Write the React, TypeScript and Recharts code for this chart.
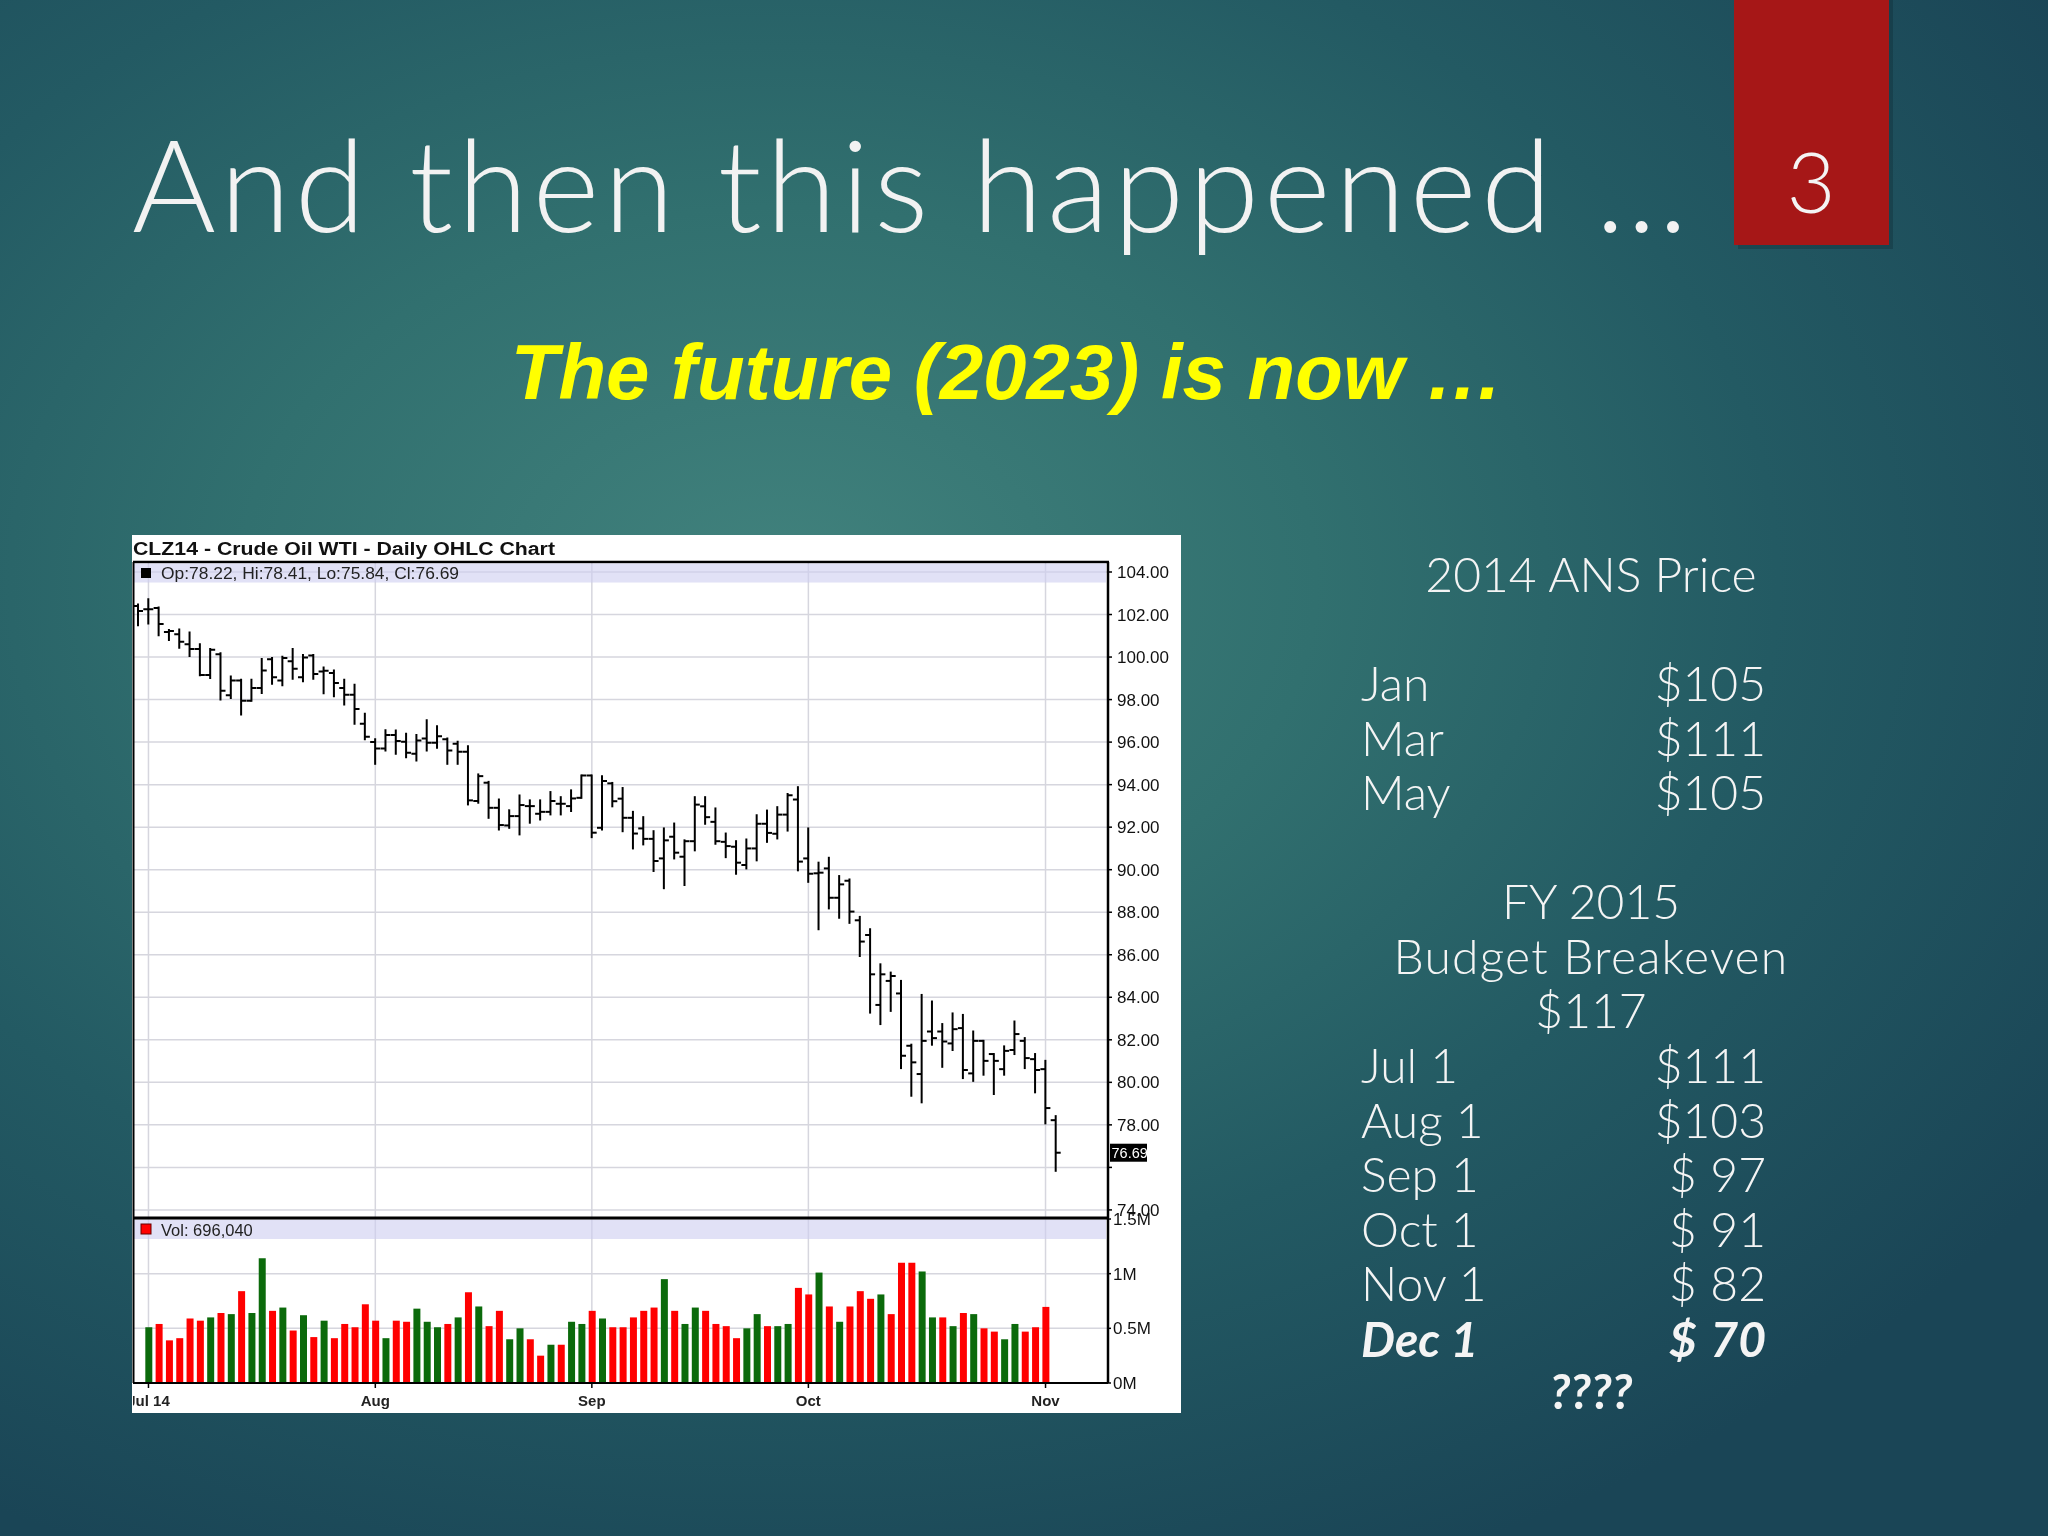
import React from 'react';
import { ComposedChart, Bar, XAxis, YAxis, CartesianGrid, Cell, ReferenceLine } from 'recharts';

// trading sessions Jun 30 – Nov 4, 2014
const sessionMonths: [number, number[]][] = [
  [6, [30]],
  [7, [1, 2, 3, 7, 8, 9, 10, 11, 14, 15, 16, 17, 18, 21, 22, 23, 24, 25, 28, 29, 30, 31]],
  [8, [1, 4, 5, 6, 7, 8, 11, 12, 13, 14, 15, 18, 19, 20, 21, 22, 25, 26, 27, 28, 29]],
  [9, [2, 3, 4, 5, 8, 9, 10, 11, 12, 15, 16, 17, 18, 19, 22, 23, 24, 25, 26, 29, 30]],
  [10, [1, 2, 3, 6, 7, 8, 9, 10, 13, 14, 15, 16, 17, 20, 21, 22, 23, 24, 27, 28, 29, 30, 31]],
  [11, [3, 4]],
];
const sessions = sessionMonths.flatMap(([m, days]) => days.map((d) => `${m}/${d}`));

const monthTicks = ['7/1', '8/1', '9/2', '10/1', '11/3'];
const monthLabels = ['Jul 14', 'Aug', 'Sep', 'Oct', 'Nov'];

const opens = [
  102.4, 102.25, 102.31, 101.18, 101.07, 100.6, 100.38, 99.16, 100.13, 98.2,
  98.9, 97.95, 98.55, 99.9, 98.9, 99.8, 99.05, 100.07, 99.32, 99.25,
  98.55, 98.23, 96.86, 96.0, 95.7, 96.33, 96.02, 95.45, 96.17, 95.97,
  96.13, 95.92, 95.55, 93.23, 94.09, 92.91, 92.08, 92.52, 92.99, 92.63,
  92.72, 93.1, 92.99, 93.38, 94.43, 91.97, 94.06, 93.34, 92.44, 91.94,
  91.45, 90.53, 91.55, 90.61, 91.34, 92.98, 92.25, 91.31, 91.08, 90.22,
  91.0, 92.16, 91.69, 92.59, 93.3, 90.53, 89.83, 90.06, 88.68, 89.48,
  87.62, 86.93, 83.64, 84.77, 84.18, 81.72, 80.39, 82.39, 82.39, 81.83,
  82.55, 80.42, 81.95, 81.33, 80.62, 81.52, 81.95, 81.09, 80.62, 78.22,
];
const highs = [
  102.47, 102.72, 102.33, 101.27, 101.3, 101.16, 100.6, 100.38, 100.18, 99.09,
  98.93, 98.93, 99.91, 99.95, 100.02, 100.38, 100.1, 100.1, 99.51, 99.37,
  98.93, 98.7, 97.33, 96.13, 96.56, 96.55, 96.39, 96.33, 97.03, 96.75,
  96.17, 96.02, 95.81, 94.48, 94.13, 93.3, 92.79, 93.49, 93.26, 93.26,
  93.65, 93.41, 93.73, 94.43, 94.43, 94.4, 94.08, 93.84, 92.72, 92.47,
  91.81, 91.94, 92.17, 91.38, 93.41, 93.41, 92.88, 91.7, 91.34, 91.42,
  92.56, 92.78, 92.94, 93.56, 93.88, 91.94, 90.33, 90.56, 89.7, 89.54,
  87.78, 87.2, 85.55, 85.16, 84.77, 81.77, 84.11, 83.8, 82.74, 83.24,
  83.17, 82.39, 81.95, 81.33, 81.69, 82.86, 82.08, 81.33, 81.01, 78.41,
];
const lows = [
  101.5, 101.58, 101.03, 100.8, 100.44, 100.05, 99.14, 99.01, 98.0, 98.08,
  97.3, 97.95, 98.31, 98.75, 98.67, 98.98, 98.86, 98.98, 98.3, 98.16,
  97.77, 96.86, 96.13, 94.98, 95.61, 95.45, 95.29, 95.14, 95.61, 95.73,
  94.98, 94.98, 93.07, 93.15, 92.44, 91.89, 91.97, 91.66, 92.21, 92.36,
  92.6, 92.6, 92.76, 93.38, 91.53, 91.89, 92.98, 91.81, 91.0, 91.19,
  89.94, 89.13, 90.53, 89.28, 90.91, 92.16, 91.22, 90.59, 89.81, 90.06,
  90.44, 91.31, 91.47, 91.84, 89.97, 89.43, 87.2, 88.18, 87.74, 87.5,
  85.94, 83.28, 82.74, 83.36, 80.67, 79.37, 79.06, 81.77, 80.73, 81.52,
  80.2, 80.07, 80.36, 79.45, 80.36, 81.33, 80.67, 79.53, 78.07, 75.84,
];
const closes = [
  102.17, 102.25, 101.55, 101.22, 100.72, 100.38, 99.16, 100.34, 98.42, 98.9,
  97.95, 98.55, 99.37, 99.05, 99.95, 99.45, 99.98, 99.2, 99.35, 98.78,
  98.23, 97.56, 96.25, 95.7, 96.33, 96.05, 95.5, 96.08, 95.97, 96.28,
  95.61, 95.55, 93.26, 94.4, 92.91, 92.1, 92.52, 93.04, 92.99, 92.72,
  93.23, 93.1, 93.35, 94.43, 91.74, 94.17, 93.22, 92.44, 91.7, 91.45,
  90.41, 91.38, 90.8, 91.34, 93.06, 92.47, 91.34, 91.11, 90.33, 91.0,
  92.16, 91.73, 92.59, 93.5, 90.38, 89.81, 89.86, 88.68, 89.31, 88.03,
  86.62, 85.08, 85.08, 85.0, 81.25, 80.94, 81.95, 82.08, 81.92, 82.5,
  80.58, 81.95, 81.01, 81.01, 81.48, 82.27, 81.14, 80.58, 78.79, 76.69,
];

// volume in millions of contracts
const volumes = [
  null, 0.51, 0.54, 0.39, 0.41, 0.59, 0.57, 0.6, 0.64, 0.63,
  0.84, 0.64, 1.14, 0.66, 0.69, 0.48, 0.62, 0.42, 0.57, 0.41,
  0.54, 0.51, 0.72, 0.57, 0.41, 0.57, 0.56, 0.68, 0.56, 0.51,
  0.54, 0.6, 0.83, 0.7, 0.52, 0.66, 0.4, 0.5, 0.4, 0.25,
  0.35, 0.35, 0.56, 0.54, 0.66, 0.59, 0.51, 0.51, 0.6, 0.66,
  0.69, 0.95, 0.66, 0.54, 0.69, 0.66, 0.54, 0.52, 0.41, 0.5,
  0.63, 0.52, 0.52, 0.54, 0.87, 0.81, 1.01, 0.7, 0.56, 0.7,
  0.84, 0.77, 0.81, 0.63, 1.1, 1.1, 1.02, 0.6, 0.6, 0.52,
  0.64, 0.63, 0.5, 0.47, 0.4, 0.54, 0.47, 0.51, 0.69604, null,
];
// u = up day (green), d = down day (red)
const volDirection = [
  '', 'u', 'd', 'd', 'd', 'd', 'd', 'u', 'd', 'u',
  'd', 'u', 'u', 'd', 'u', 'd', 'u', 'd', 'u', 'd',
  'd', 'd', 'd', 'd', 'u', 'd', 'd', 'u', 'u', 'u',
  'd', 'u', 'd', 'u', 'd', 'd', 'u', 'u', 'd', 'd',
  'u', 'd', 'u', 'u', 'd', 'u', 'd', 'd', 'd', 'd',
  'd', 'u', 'd', 'u', 'u', 'd', 'd', 'd', 'd', 'u',
  'u', 'd', 'u', 'u', 'd', 'd', 'u', 'd', 'u', 'd',
  'd', 'd', 'u', 'd', 'd', 'd', 'u', 'u', 'd', 'u',
  'd', 'u', 'd', 'd', 'u', 'u', 'd', 'd', 'd', '',
];

const priceTicks = [74, 76, 78, 80, 82, 84, 86, 88, 90, 92, 94, 96, 98, 100, 102, 104];
const volTicks = [0, 0.5, 1, 1.5];

const ansMonths = ['Jan', 'Mar', 'May'];
const ansPrices = [105, 111, 105];
const fyDates = ['Jul 1', 'Aug  1', 'Sep 1', 'Oct 1', 'Nov 1'];
const fyPrices = [111, 103, 97, 91, 82];
const decDate = 'Dec 1';
const decPrice = 70;

const rows = sessions.map((s, i) => ({
  s,
  o: opens[i],
  h: highs[i],
  l: lows[i],
  c: closes[i],
  v: volumes[i],
  dir: volDirection[i],
}));

const last = rows[rows.length - 1];
const lastVolume = volumes.filter((v) => v != null).slice(-1)[0] as number;

const chartFont = '"Liberation Sans", Arial, sans-serif';
const slideFont = 'Lato, "Open Sans", sans-serif';

const OhlcShape = (props: any) => {
  const { x, y, width, height, payload } = props;
  if (!payload || payload.h == null || !isFinite(height)) return null;
  const k = height / (payload.h - payload.l);
  const cx = x + width / 2;
  const yo = y + (payload.h - payload.o) * k;
  const yc = y + (payload.h - payload.c) * k;
  return (
    <g stroke="#000" strokeWidth={2}>
      <line x1={cx} x2={cx} y1={y - 1} y2={y + height + 1} />
      <line x1={cx - 5} x2={cx} y1={yo} y2={yo} />
      <line x1={cx} x2={cx + 5} y1={yc} y2={yc} />
    </g>
  );
};

const LastPriceTag = (props: any) => {
  const { viewBox } = props;
  if (!viewBox) return null;
  const x = viewBox.x + viewBox.width + 2;
  const y = viewBox.y;
  return (
    <g>
      <rect x={x} y={y - 9} width={37} height={18} fill="#000" />
      <text x={x + 1.5} y={y + 5} fill="#fff" fontSize={14.5} fontFamily={chartFont}>
        {last.c.toFixed(2)}
      </text>
    </g>
  );
};

const monthLabel = (s: string) => monthLabels[monthTicks.indexOf(s)] ?? '';
const volLabel = (v: number) => (v === 0 ? '0M' : `${v}M`);

const CHART_W = 1047;
const PLOT_PAD_RIGHT = 47;

export default function App() {
  return (
    <div
      style={{
        position: 'fixed',
        left: 0,
        top: 0,
        width: 2048,
        height: 1536,
        overflow: 'hidden',
        background:
          'radial-gradient(ellipse 75% 70% at 38% 38%, #41827d 0%, #31706f 35%, #235a63 65%, #1a4556 100%)',
      }}
    >
      {/* slide text */}
      <svg width={2048} height={1536} style={{ position: 'absolute', left: 0, top: 0 }}>
        <rect x={1738} y={0} width={155} height={249} fill="#0d2a33" opacity={0.35} />
        <rect x={1734} y={0} width={155} height={245} fill="#a61717" />
        <text x={1811} y={213} textAnchor="middle" fontFamily={slideFont} fontWeight={300} fontSize={84} fill="#f4f4f4">
          3
        </text>
        <text
          x={132}
          y={232}
          fontFamily={slideFont}
          fontWeight={300}
          fontSize={128}
          letterSpacing={4.5}
          fill="#f2f2f2"
        >
          And then this happened …
        </text>
        <text
          x={1007}
          y={399}
          textAnchor="middle"
          fontFamily={chartFont}
          fontWeight="bold"
          fontStyle="italic"
          fontSize={78}
          fill="#ffff00"
        >
          The future (2023) is now …
        </text>

        <g fontFamily={slideFont} fontWeight={300} fontSize={48} fill="#f4f4f4" style={{ whiteSpace: 'pre' }}>
          <text x={1591} y={592} textAnchor="middle">2014 ANS Price</text>
          {ansMonths.map((m, i) => (
            <g key={m}>
              <text x={1361} y={701 + i * 54.6}>{m}</text>
              <text x={1766} y={701 + i * 54.6} textAnchor="end">{`$${ansPrices[i]}`}</text>
            </g>
          ))}
          <text x={1591} y={919} textAnchor="middle">FY 2015</text>
          <text x={1591} y={974} textAnchor="middle" letterSpacing={1.2}>Budget Breakeven</text>
          <text x={1591} y={1028} textAnchor="middle">$117</text>
          {fyDates.map((d, i) => (
            <g key={d}>
              <text x={1361} y={1083 + i * 54.6}>{d}</text>
              {fyPrices[i] >= 100 ? (
                <text x={1766} y={1083 + i * 54.6} textAnchor="end">{`$${fyPrices[i]}`}</text>
              ) : (
                <>
                  <text x={1669} y={1083 + i * 54.6}>$</text>
                  <text x={1766} y={1083 + i * 54.6} textAnchor="end">{fyPrices[i]}</text>
                </>
              )}
            </g>
          ))}
          <g fontWeight="bold" fontStyle="italic">
            <text x={1361} y={1357}>{decDate}</text>
            <text x={1669} y={1357}>$</text>
            <text x={1766} y={1357} textAnchor="end">{decPrice}</text>
            <text x={1591} y={1409} textAnchor="middle">????</text>
          </g>
        </g>
      </svg>

      {/* chart image */}
      <div
        style={{
          position: 'absolute',
          left: 132,
          top: 535,
          width: 1049,
          height: 878,
          background: '#fff',
          overflow: 'hidden',
        }}
      >
        <div style={{ position: 'absolute', left: 1, top: 27 }}>
          <ComposedChart width={CHART_W} height={656} data={rows} margin={{ top: 0, right: 0, bottom: 0, left: 0 }}>
            <CartesianGrid stroke="#d6d6de" strokeWidth={1.5} />
            <XAxis
              dataKey="s"
              type="category"
              hide
              ticks={monthTicks}
              interval={0}
              padding={{ left: 0, right: PLOT_PAD_RIGHT }}
            />
            <YAxis
              orientation="right"
              width={72}
              domain={[73.62, 104.47]}
              allowDataOverflow
              ticks={priceTicks}
              interval={0}
              tickFormatter={(v: number) => (v === 76 ? '' : v.toFixed(2))}
              tick={{ fontSize: 17, fill: '#111', fontFamily: chartFont }}
              tickSize={4}
              tickMargin={5}
              axisLine={{ stroke: '#000', strokeWidth: 2.5 }}
              tickLine={{ stroke: '#000', strokeWidth: 1.5 }}
            />
            <Bar
              dataKey={(d: any) => [d.l, d.h]}
              barSize={8}
              shape={(p: any) => <OhlcShape {...p} />}
              isAnimationActive={false}
            />
            <ReferenceLine y={last.c} stroke="none" label={<LastPriceTag />} />
          </ComposedChart>
        </div>

        <div style={{ position: 'absolute', left: 1, top: 672 }}>
          <ComposedChart width={CHART_W} height={206} data={rows} margin={{ top: 12, right: 0, bottom: 0, left: 0 }}>
            <CartesianGrid stroke="#d6d6de" strokeWidth={1.5} />
            <XAxis
              dataKey="s"
              type="category"
              ticks={monthTicks}
              interval={0}
              padding={{ left: 0, right: PLOT_PAD_RIGHT }}
              height={30}
              tickFormatter={monthLabel}
              tick={{ fontSize: 15, fontWeight: 'bold', fill: '#222', fontFamily: chartFont }}
              tickSize={5}
              tickMargin={7}
              axisLine={{ stroke: '#000', strokeWidth: 2 }}
              tickLine={{ stroke: '#000', strokeWidth: 1.5 }}
            />
            <YAxis
              orientation="right"
              width={72}
              domain={[0, 1.5]}
              allowDataOverflow
              ticks={volTicks}
              interval={0}
              tickFormatter={volLabel}
              tick={{ fontSize: 17, fill: '#111', fontFamily: chartFont }}
              tickSize={3}
              tickMargin={2}
              axisLine={{ stroke: '#000', strokeWidth: 2.5 }}
              tickLine={{ stroke: '#000', strokeWidth: 1.5 }}
            />
            <Bar dataKey="v" barSize={7} isAnimationActive={false}>
              {rows.map((r) => (
                <Cell key={r.s} fill={r.dir === 'u' ? '#0b6a0b' : '#ff0000'} />
              ))}
            </Bar>
          </ComposedChart>
        </div>

        {/* chart header strips and frame */}
        <svg
          width={1049}
          height={878}
          style={{ position: 'absolute', left: 0, top: 0, pointerEvents: 'none' }}
          fontFamily={chartFont}
        >
          <text x={1} y={20} fontSize={18} fontWeight="bold" fill="#111" textLength={422} lengthAdjust="spacingAndGlyphs">
            CLZ14 - Crude Oil WTI - Daily OHLC Chart
          </text>
          <line x1={1} x2={977} y1={27} y2={27} stroke="#000" strokeWidth={2.5} />
          <rect x={2} y={28.5} width={972} height={19} fill="rgba(205,205,240,0.6)" />
          <rect x={9} y={33} width={10} height={10} fill="#000" />
          <text x={29} y={44} fontSize={16.5} fill="#222" textLength={298} lengthAdjust="spacingAndGlyphs">
            {`Op:${last.o.toFixed(2)}, Hi:${last.h.toFixed(2)}, Lo:${last.l.toFixed(2)}, Cl:${last.c.toFixed(2)}`}
          </text>
          <line x1={1} x2={977} y1={683} y2={683} stroke="#000" strokeWidth={3} />
          <rect x={2} y={685} width={972} height={19} fill="rgba(205,205,240,0.6)" />
          <rect x={9} y={689} width={10} height={10} fill="#ff0000" stroke="#600" strokeWidth={1} />
          <text x={29} y={701} fontSize={16.5} fill="#222">
            {`Vol: ${Math.round(lastVolume * 1e6).toLocaleString('en-US')}`}
          </text>
          <line x1={1.5} x2={1.5} y1={27} y2={848} stroke="#000" strokeWidth={2} />
        </svg>
      </div>
    </div>
  );
}
